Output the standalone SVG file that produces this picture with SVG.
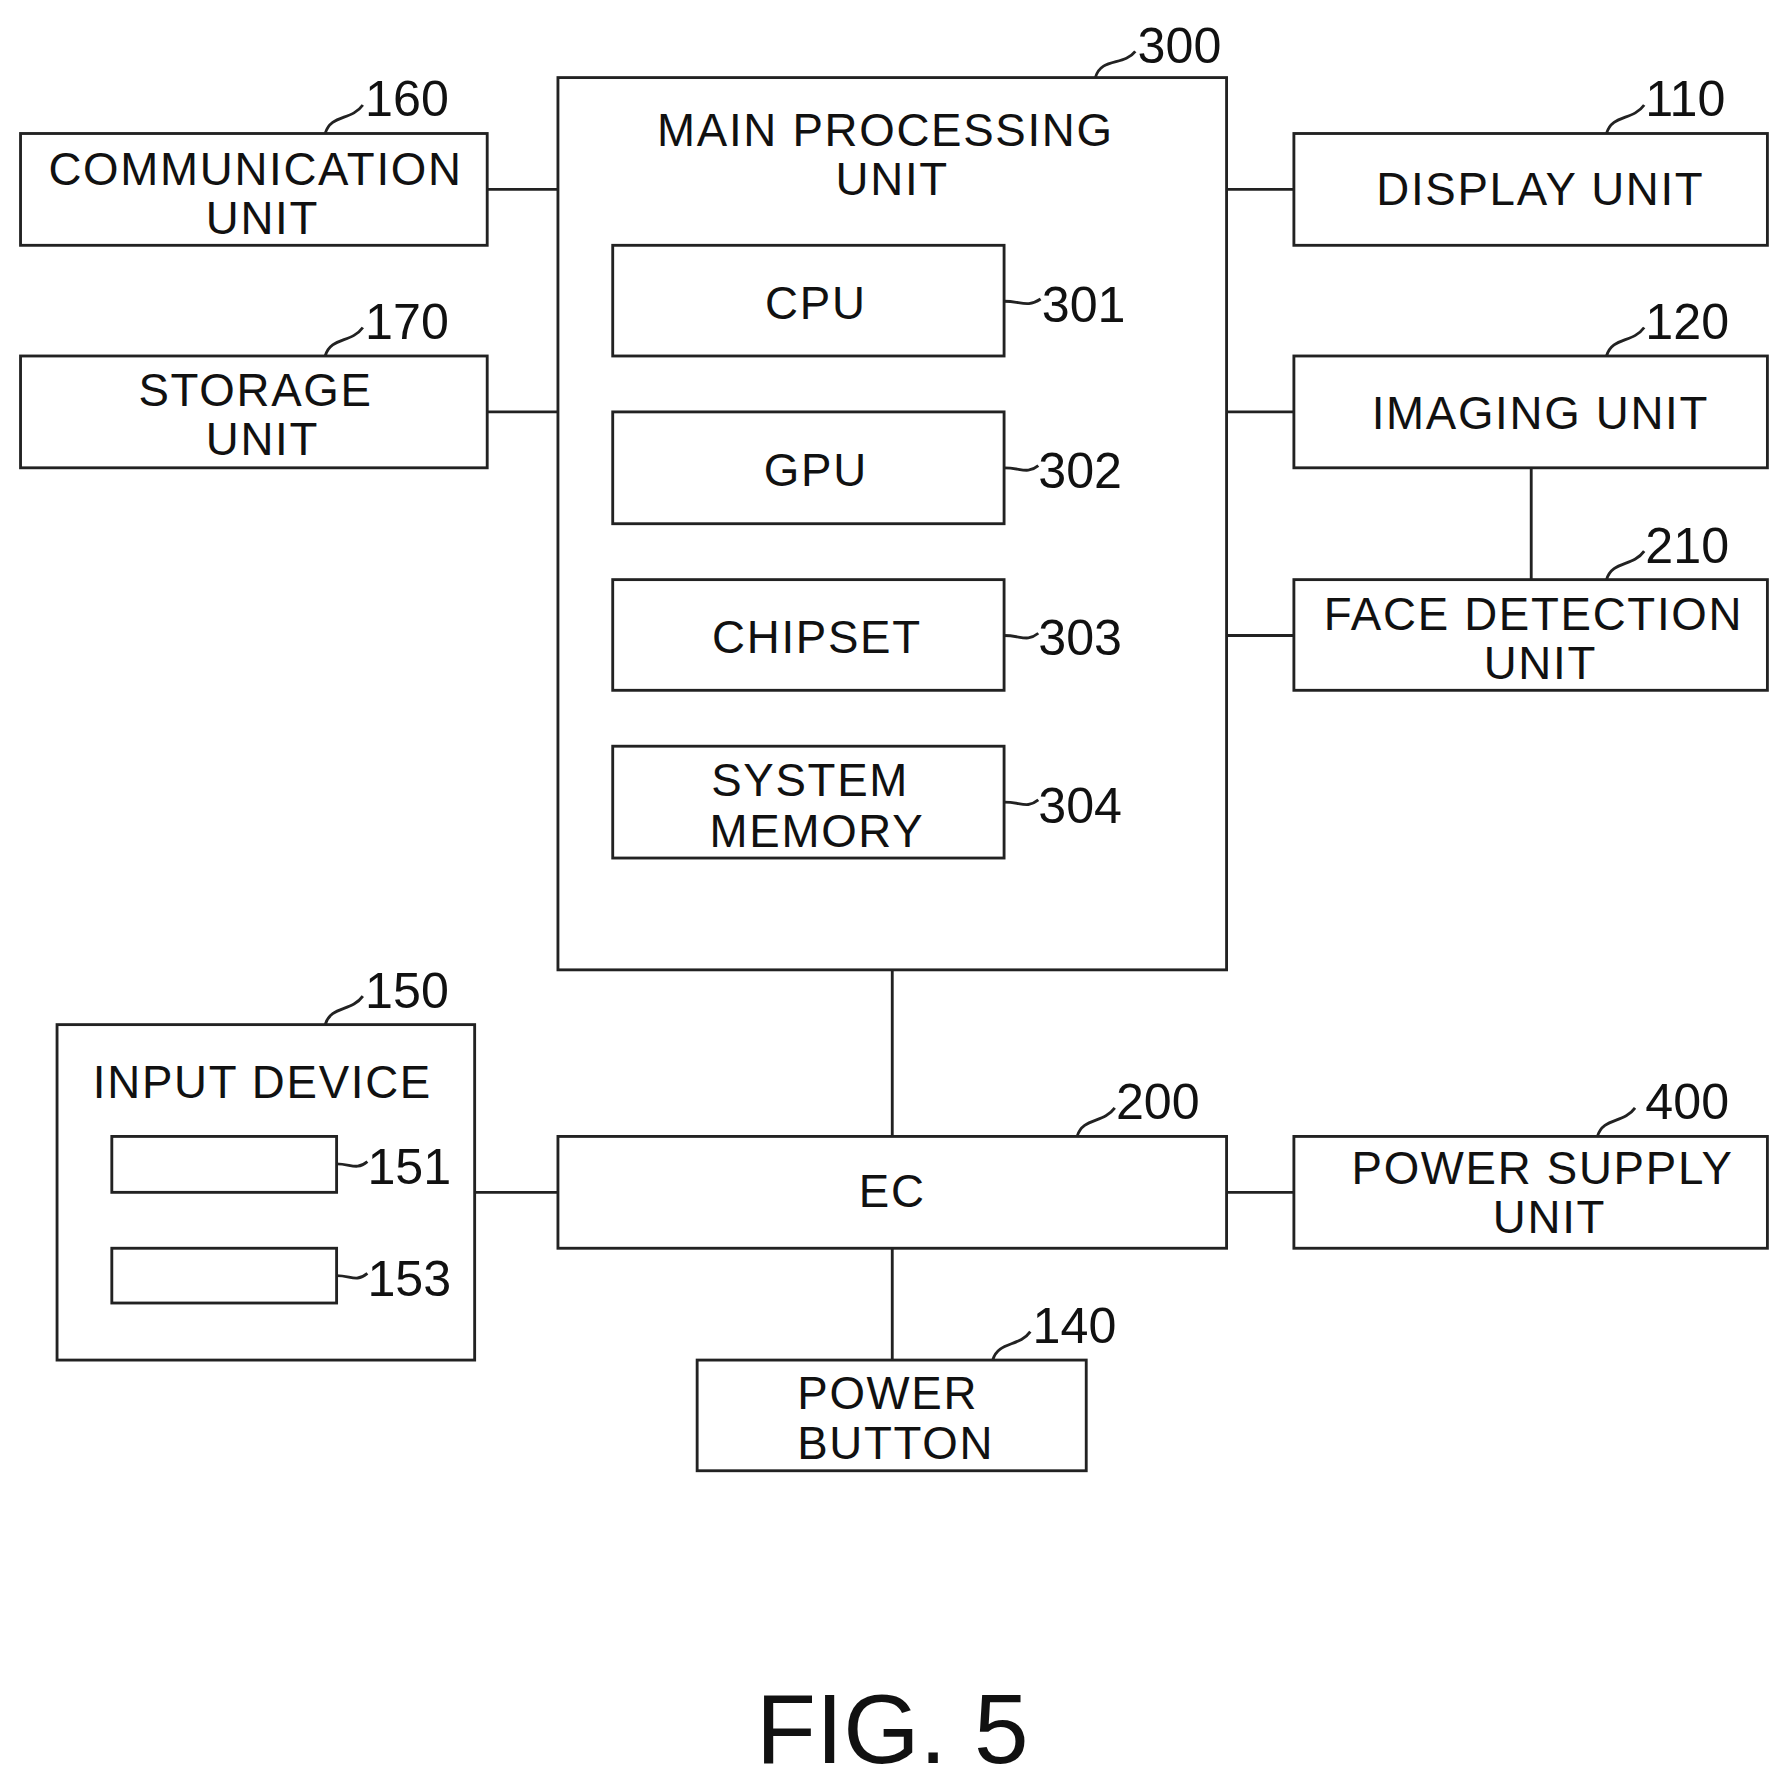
<svg xmlns="http://www.w3.org/2000/svg" width="1789" height="1785" viewBox="0 0 1789 1785">
<style>
rect{fill:#fff;stroke:#222;stroke-width:2.5}
text{font-family:"Liberation Sans",Arial,sans-serif;font-size:40px;fill:#111;text-anchor:middle;letter-spacing:1.5px}
.n{font-size:44px;text-anchor:start;letter-spacing:0}
.c line,.ld{stroke:#222;stroke-width:2.5;fill:none}
</style>
<rect x="0" y="0" width="1789" height="1785" style="stroke:none"/>
<g transform="scale(1.141)">
<g class="c" id="connectors">
<line x1="427" y1="166" x2="489" y2="166"/><line x1="427" y1="361" x2="489" y2="361"/>
<line x1="1075" y1="166" x2="1134" y2="166"/><line x1="1075" y1="361" x2="1134" y2="361"/>
<line x1="1075" y1="557" x2="1134" y2="557"/><line x1="1342" y1="410" x2="1342" y2="508"/>
<line x1="782" y1="850" x2="782" y2="996"/><line x1="782" y1="1094" x2="782" y2="1192"/>
<line x1="416" y1="1045" x2="489" y2="1045"/><line x1="1075" y1="1045" x2="1134" y2="1045"/>
</g>
<g id="n300"><rect x="489" y="68" width="586" height="782"/><text x="776" y="128">MAIN PROCESSING</text><text x="782" y="171">UNIT</text><path class="ld" d="M960 68 C965 50 985 58 995 45"/><text class="n" x="997" y="55">300</text></g>
<g id="n301"><rect x="537" y="215" width="343" height="97"/><text x="715" y="280">CPU</text><path class="ld" d="M880 264 C895 264 900 270 912 262"/><text class="n" x="913" y="282">301</text></g>
<g id="n302"><rect x="537" y="361" width="343" height="98"/><text x="715" y="426">GPU</text><path class="ld" d="M880 410 C895 410 900 416 910 408"/><text class="n" x="910" y="428">302</text></g>
<g id="n303"><rect x="537" y="508" width="343" height="97"/><text x="716" y="572">CHIPSET</text><path class="ld" d="M880 557 C895 557 900 563 910 555"/><text class="n" x="910" y="574">303</text></g>
<g id="n304"><rect x="537" y="654" width="343" height="98"/><text x="710" y="698">SYSTEM</text><text x="716" y="742">MEMORY</text><path class="ld" d="M880 703 C895 703 900 709 910 701"/><text class="n" x="910" y="721">304</text></g>
<g id="n160"><rect x="18" y="117" width="409" height="98"/><text x="224" y="162">COMMUNICATION</text><text x="230" y="205">UNIT</text><path class="ld" d="M285 117 C290 100 308 106 318 92"/><text class="n" x="320" y="102">160</text></g>
<g id="n170"><rect x="18" y="312" width="409" height="98"/><text x="224" y="356">STORAGE</text><text x="230" y="399">UNIT</text><path class="ld" d="M285 312 C290 295 308 301 318 287"/><text class="n" x="320" y="297">170</text></g>
<g id="n110"><rect x="1134" y="117" width="415" height="98"/><text x="1350" y="180">DISPLAY UNIT</text><path class="ld" d="M1408 117 C1413 100 1431 106 1441 92"/><text class="n" x="1442" y="102">110</text></g>
<g id="n120"><rect x="1134" y="312" width="415" height="98"/><text x="1350" y="376">IMAGING UNIT</text><path class="ld" d="M1408 312 C1413 295 1431 301 1441 287"/><text class="n" x="1442" y="297">120</text></g>
<g id="n210"><rect x="1134" y="508" width="415" height="97"/><text x="1344" y="552">FACE DETECTION</text><text x="1350" y="595">UNIT</text><path class="ld" d="M1408 508 C1413 491 1431 497 1441 483"/><text class="n" x="1442" y="493">210</text></g>
<g id="n150"><rect x="50" y="898" width="366" height="294"/><text x="230" y="962">INPUT DEVICE</text><path class="ld" d="M285 898 C290 881 308 887 318 873"/><text class="n" x="320" y="883">150</text></g>
<g id="n151"><rect x="98" y="996" width="197" height="49"/><path class="ld" d="M295 1020 C308 1020 312 1026 322 1018"/><text class="n" x="322" y="1038">151</text></g>
<g id="n153"><rect x="98" y="1094" width="197" height="48"/><path class="ld" d="M295 1118 C308 1118 312 1124 322 1116"/><text class="n" x="322" y="1136">153</text></g>
<g id="n200"><rect x="489" y="996" width="586" height="98"/><text x="782" y="1058">EC</text><path class="ld" d="M944 996 C949 979 967 985 977 971"/><text class="n" x="978" y="981">200</text></g>
<g id="n400"><rect x="1134" y="996" width="415" height="98"/><text x="1352" y="1038">POWER SUPPLY</text><text x="1358" y="1081">UNIT</text><path class="ld" d="M1400 996 C1405 979 1423 985 1433 971"/><text class="n" x="1442" y="981">400</text></g>
<g id="n140"><rect x="611" y="1192" width="341" height="97"/><text x="778" y="1235">POWER</text><text x="785" y="1279">BUTTON</text><path class="ld" d="M870 1192 C875 1175 893 1181 903 1167"/><text class="n" x="905" y="1177">140</text></g>
<text x="782" y="1545" style="font-size:86px;letter-spacing:0">FIG. 5</text>
</g>
</svg>
